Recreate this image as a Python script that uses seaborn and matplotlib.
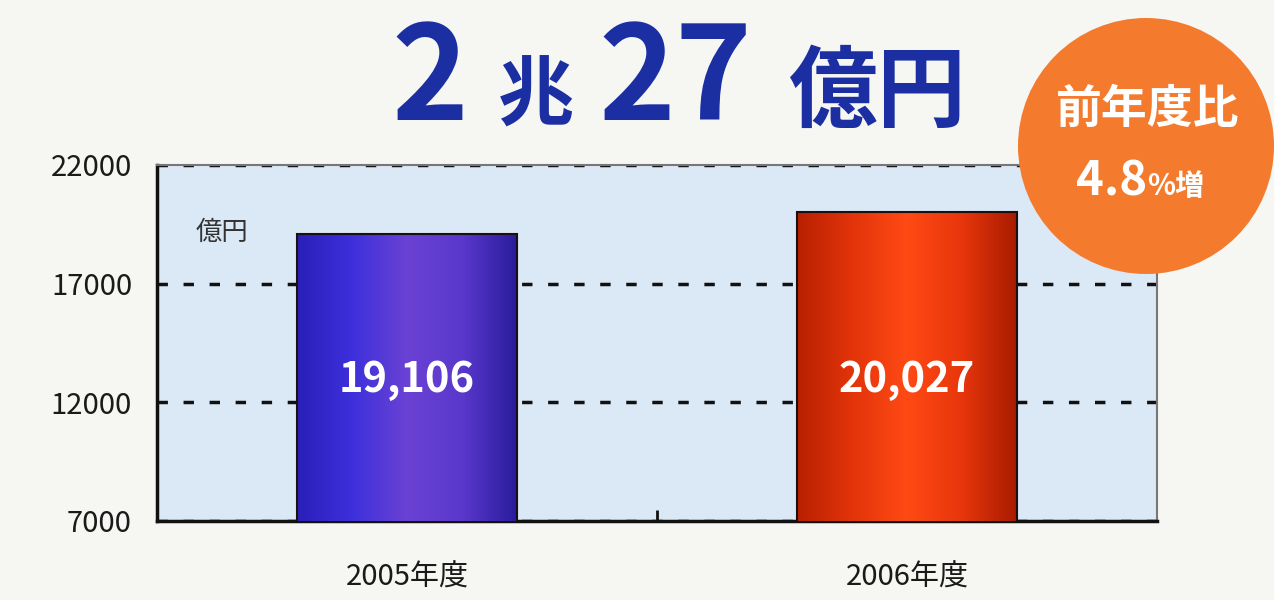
import numpy as np
import pandas as pd
import matplotlib
matplotlib.use("Agg")
import matplotlib.pyplot as plt
from matplotlib.patches import Ellipse
from matplotlib.colors import LinearSegmentedColormap
import seaborn as sns

# ---- data ----
categories = ["2005年度", "2006年度"]
values = [19106, 20027]
value_labels = ["19,106", "20,027"]
yticks = [7000, 12000, 17000, 22000]
unit_label = "億円"
title_parts = ["2", "兆", "27", "億円"]
badge_line1 = "前年度比"
badge_num = "4.8"
badge_suffix = "%増"

sns.set_theme(style="white")
plt.rcParams["font.family"] = ["Noto Sans CJK JP", "DejaVu Sans"]

W, H = 1274, 600
fig = plt.figure(figsize=(W / 100, H / 100), dpi=100)
fig.patch.set_facecolor("#f6f6f3")

def fx(px):
    return px / W

def fy(py):
    return 1 - py / H

ax = fig.add_axes([fx(157), fy(521), fx(1157) - fx(157), fy(165) - fy(521)])
ax.set_facecolor("#dbe8f5")

df = pd.DataFrame({"cat": categories, "val": values})
sns.barplot(data=df, x="cat", y="val", hue="cat", palette=["#3a2ad6", "#e8330c"],
            width=0.44, edgecolor="#1a1010", linewidth=1.5, legend=False, ax=ax, zorder=3)

ax.set_xlim(-0.5, 1.5)
ax.set_ylim(7000, 22000)
ymin = ax.get_ylim()[0]

# gradient fill clipped to each bar
grads = [
    LinearSegmentedColormap.from_list("b", ["#2a1fb8", "#3d30dc", "#6a42d4", "#5a38cc", "#2a1c9c"]),
    LinearSegmentedColormap.from_list("r", ["#b82000", "#e2340a", "#ff4a14", "#e8360c", "#a81c00"]),
]
for patch, cmap in zip(ax.patches, grads):
    x0 = patch.get_x()
    w, h = patch.get_width(), patch.get_height()
    top = patch.get_y() + h
    grad = np.linspace(0, 1, 256).reshape(1, -1)
    im = ax.imshow(grad, cmap=cmap, aspect="auto", extent=[x0, x0 + w, ymin, top],
                   zorder=3.5)
    im.set_clip_path(patch)
    im.set_clip_box(ax.bbox)
    patch.set_zorder(4)
    patch.set_facecolor("none")

ax.set_xlim(-0.5, 1.5)
ax.set_ylim(7000, 22000)
ax.set_yticks(yticks)
ax.set_yticklabels([str(t) for t in yticks], fontsize=21, color="#1a1a1a")
ax.set_xticks([0, 1])
ax.set_xticklabels(categories, fontsize=21, color="#1a1a1a")
ax.set_xticks([0.5], minor=True)
ax.tick_params(axis="x", which="major", length=0, pad=30)
ax.tick_params(axis="x", which="minor", length=8, width=2, direction="in", color="#111111", bottom=True)
ax.tick_params(axis="y", which="major", length=6, width=2, direction="in", color="#111111", pad=18, left=True)
ax.set_xlabel("")
ax.set_ylabel("")

ax.yaxis.grid(True, linestyle=(0, (3, 4.5)), color="#111111", linewidth=2.5)
ax.xaxis.grid(False)
ax.set_axisbelow(True)

for s in ["left", "bottom"]:
    ax.spines[s].set_color("#111111")
    ax.spines[s].set_linewidth(2.5)
for s in ["top", "right"]:
    ax.spines[s].set_color("#777777")
    ax.spines[s].set_linewidth(1.5)

# value labels
for patch, lab in zip(ax.patches, value_labels):
    cx = patch.get_x() + patch.get_width() / 2
    ax.text(cx, 12950, lab, ha="center", va="center", color="white",
            fontsize=30, fontweight="bold", zorder=6)

ax.text(0.065, 0.81, unit_label, transform=ax.transAxes, ha="center", va="center",
        fontsize=19, color="#333333")

# title
tcol = "#1b2fa2"
fig.text(fx(430), fy(120), title_parts[0], ha="center", va="baseline", fontsize=94,
         fontweight="bold", color=tcol)
fig.text(fx(536), fy(120), title_parts[1], ha="center", va="baseline", fontsize=55,
         fontweight="bold", color=tcol)
fig.text(fx(675), fy(120), title_parts[2], ha="center", va="baseline", fontsize=94,
         fontweight="bold", color=tcol)
fig.text(fx(878), fy(120), title_parts[3], ha="center", va="baseline", fontsize=64,
         fontweight="bold", color=tcol)

# badge
circ = Ellipse((fx(1146), fy(146)), width=256 / W, height=256 / H,
               transform=fig.transFigure, facecolor="#f47b2e", edgecolor="none", zorder=10)
fig.add_artist(circ)
fig.text(fx(1148), fy(110), badge_line1, ha="center", va="center", fontsize=33,
         fontweight="bold", color="white", zorder=11)
fig.text(fx(1147), fy(195), badge_num, ha="right", va="baseline", fontsize=34,
         fontweight="bold", color="white", zorder=11)
fig.text(fx(1147), fy(195), badge_suffix, ha="left", va="baseline", fontsize=21,
         fontweight="bold", color="white", zorder=11)

fig.savefig("out.png", dpi=100, facecolor=fig.get_facecolor())
